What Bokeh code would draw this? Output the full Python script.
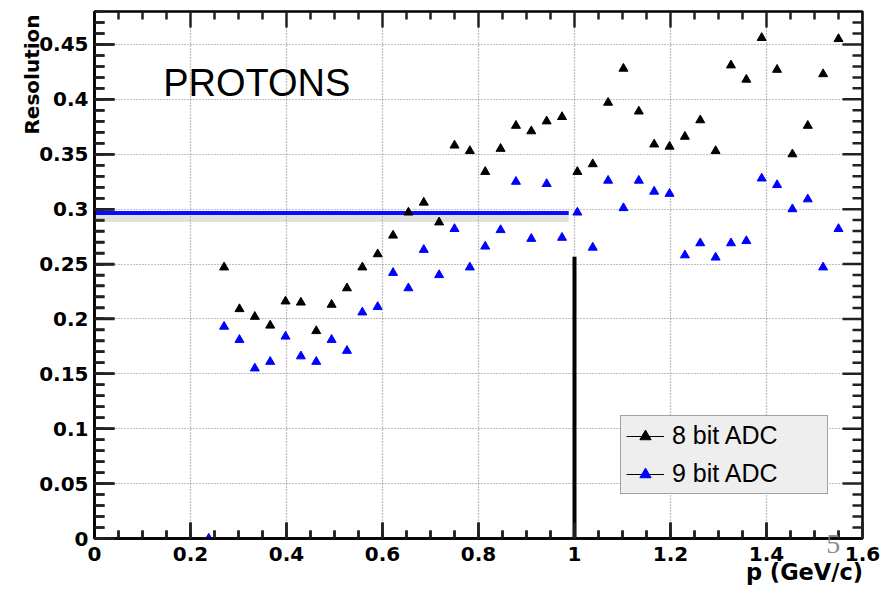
import math
import numpy as np
from bokeh.plotting import figure
from bokeh.models import (SingleIntervalTicker, FixedTicker, LinearAxis, Label, Legend,
                          LegendItem, CustomJSTickFormatter, Range1d)
from bokeh.embed import file_html
from bokeh.resources import INLINE

# ---------------- data ----------------
p_8bit = [0.270, 0.302, 0.334, 0.366, 0.398, 0.430, 0.462, 0.494, 0.526, 0.558,
          0.590, 0.622, 0.654, 0.686, 0.718, 0.750, 0.782, 0.814, 0.846, 0.878,
          0.910, 0.942, 0.974, 1.006, 1.038, 1.070, 1.102, 1.134, 1.166, 1.198,
          1.230, 1.262, 1.294, 1.326, 1.358, 1.390, 1.422, 1.454, 1.486, 1.518,
          1.550]
res_8bit = [0.247, 0.209, 0.202, 0.194, 0.216, 0.215, 0.189, 0.213, 0.228, 0.247,
            0.259, 0.276, 0.297, 0.306, 0.288, 0.358, 0.353, 0.334, 0.355, 0.376,
            0.371, 0.380, 0.384, 0.334, 0.341, 0.397, 0.428, 0.389, 0.359, 0.357,
            0.366, 0.381, 0.353, 0.431, 0.418, 0.456, 0.427, 0.350, 0.376, 0.423,
            0.455]

p_9bit = [0.238, 0.270, 0.302, 0.334, 0.366, 0.398, 0.430, 0.462, 0.494, 0.526,
          0.558, 0.590, 0.622, 0.654, 0.686, 0.718, 0.750, 0.782, 0.814, 0.846,
          0.878, 0.910, 0.942, 0.974, 1.006, 1.038, 1.070, 1.102, 1.134, 1.166,
          1.198, 1.230, 1.262, 1.294, 1.326, 1.358, 1.390, 1.422, 1.454, 1.486,
          1.518, 1.550]
res_9bit = [0.000, 0.193, 0.181, 0.155, 0.161, 0.184, 0.166, 0.161, 0.181, 0.171,
            0.206, 0.211, 0.242, 0.228, 0.263, 0.240, 0.282, 0.247, 0.266, 0.281,
            0.325, 0.273, 0.323, 0.274, 0.297, 0.265, 0.326, 0.301, 0.326, 0.316,
            0.314, 0.258, 0.269, 0.256, 0.269, 0.271, 0.328, 0.322, 0.300, 0.309,
            0.247, 0.282]

# overlay annotations drawn on the slide
target_res = 0.2965          # blue horizontal line level
target_p = [0.0, 0.988]      # its extent in p
shadow_res = 0.2915          # soft grey shadow under it
cut_p = 1.0                  # black vertical line position
cut_res = [0.0, 0.2567]      # its extent in resolution

series_names = ["8 bit ADC", "9 bit ADC"]
title_text = "PROTONS"
x_title = "p (GeV/c)"
y_title = "Resolution"
page_number = "5"

X_MAX = 1.6
Y_MAX = 0.48
X_MAJOR, X_MINOR = 0.2, 0.05
Y_MAJOR, Y_MINOR = 0.05, 0.01

# ---------------- figure ----------------
BORDER_L, BORDER_R, BORDER_T, BORDER_B = 94, 21, 11, 55
W, H = 883, 593
p = figure(width=W, height=H, output_backend="svg", toolbar_location=None,
           x_range=Range1d(0, X_MAX), y_range=Range1d(0, Y_MAX),
           min_border_left=BORDER_L, min_border_right=BORDER_R,
           min_border_top=BORDER_T, min_border_bottom=BORDER_B,
           background_fill_color="white", border_fill_color="white")
p.outline_line_color = "black"
p.outline_line_width = 2.5

xt = SingleIntervalTicker(interval=X_MAJOR, num_minor_ticks=4)
yt = SingleIntervalTicker(interval=Y_MAJOR, num_minor_ticks=5)
fmt = CustomJSTickFormatter(code="return String(Number(tick.toFixed(3)));")

tick_font = "DejaVu Sans"
TICK_W = 2.5
TICK_C = "#222222"

xa = p.xaxis[0]
xa.ticker = xt
xa.formatter = fmt
xa.major_tick_in = 16
xa.major_tick_out = 0
xa.minor_tick_in = 8
xa.minor_tick_out = 0
xa.axis_line_width = 2.5
xa.major_tick_line_width = TICK_W
xa.minor_tick_line_width = TICK_W
xa.major_tick_line_color = TICK_C
xa.minor_tick_line_color = TICK_C
xa.major_label_text_font = tick_font
xa.major_label_text_font_style = "bold"
xa.major_label_text_font_size = "20px"
xa.major_label_text_color = "black"
xa.major_label_standoff = 8

ya = p.yaxis[0]
ya.ticker = yt
ya.formatter = fmt
ya.major_tick_in = 20
ya.major_tick_out = 0
ya.minor_tick_in = 10
ya.minor_tick_out = 0
ya.axis_line_width = 2.5
ya.major_tick_line_width = TICK_W
ya.minor_tick_line_width = TICK_W
ya.major_tick_line_color = TICK_C
ya.minor_tick_line_color = TICK_C
ya.major_label_text_font = tick_font
ya.major_label_text_font_style = "bold"
ya.major_label_text_font_size = "20px"
ya.major_label_text_color = "black"
ya.major_label_standoff = 6

# axis titles as single labelled ticks of extra, line-less axes
def title_axis(pos, text, **kw):
    ax = LinearAxis(ticker=FixedTicker(ticks=[pos], minor_ticks=[]),
                    formatter=CustomJSTickFormatter(args=dict(t=text), code="return t;"),
                    axis_line_color=None, major_tick_line_color=None,
                    minor_tick_line_color=None, major_tick_in=0, major_tick_out=0,
                    minor_tick_in=0, minor_tick_out=0, **kw)
    return ax

x_title_ax = title_axis(1.4792, x_title, major_label_text_font="DejaVu Sans",
                        major_label_text_font_style="bold",
                        major_label_text_font_size="22.5px",
                        major_label_text_color="black", major_label_standoff=-5)
page_ax = title_axis(1.539, page_number + "\n\u00a0",
                     major_label_text_font="Liberation Serif",
                     major_label_text_font_style="normal",
                     major_label_text_font_size="28px",
                     major_label_text_line_height=1.02,
                     major_label_text_color="#8c8c8c", major_label_standoff=-60)
y_title_ax = title_axis(0.4226, y_title, major_label_text_font="DejaVu Sans",
                        major_label_text_font_style="bold",
                        major_label_text_font_size="20px",
                        major_label_text_color="black", major_label_standoff=-8,
                        major_label_orientation="vertical")
p.add_layout(x_title_ax, "below")
p.add_layout(page_ax, "below")
p.add_layout(y_title_ax, "left")

# grid
p.xgrid.ticker = xt
p.ygrid.ticker = yt
for g in (p.xgrid[0], p.ygrid[0]):
    g.grid_line_color = "#808080"
    g.grid_line_dash = "1 2"
    g.grid_line_width = 1.2

# ROOT-style inward ticks on all four frame edges, drawn as segments
frame_w = W - BORDER_L - BORDER_R
frame_h = H - BORDER_T - BORDER_B
px_x = X_MAX / frame_w          # data units per pixel, horizontally
px_y = Y_MAX / frame_h          # data units per pixel, vertically

x_ticks = np.round(np.arange(0.0, X_MAX + 1e-9, X_MINOR), 4)
x_is_major = np.isclose(np.mod(x_ticks + 1e-9, X_MAJOR), 0, atol=1e-6)
x_len = np.where(x_is_major, 16, 8) * px_y
y_ticks = np.round(np.arange(0.0, Y_MAX, Y_MINOR), 4)
y_is_major = np.isclose(np.mod(y_ticks + 1e-9, Y_MAJOR), 0, atol=1e-6)
y_len = np.where(y_is_major, 20, 10) * px_x

tick_kw = dict(line_color=TICK_C, line_width=TICK_W)
p.segment(x_ticks, np.zeros_like(x_ticks), x_ticks, x_len, **tick_kw)             # bottom
p.segment(x_ticks, np.full_like(x_ticks, Y_MAX), x_ticks, Y_MAX - x_len, **tick_kw)  # top
p.segment(np.zeros_like(y_ticks), y_ticks, y_len, y_ticks, **tick_kw)             # left
p.segment(np.full_like(y_ticks, X_MAX), y_ticks, X_MAX - y_len, y_ticks, **tick_kw)  # right

# overlay lines
p.line(target_p, [shadow_res, shadow_res], line_color="#bbbbbb", line_width=7,
       line_alpha=0.45)
p.line(target_p, [target_res, target_res], line_color="#0a0aff", line_width=4)
p.line([cut_p, cut_p], cut_res, line_color="black", line_width=4)

# data
s8 = p.scatter(p_8bit, res_8bit, marker="triangle", size=9, color="black")
s9 = p.scatter(p_9bit, res_9bit, marker="triangle", size=9, color="#0000ff")

l8 = p.line([float("nan")], [float("nan")], line_color="black", line_width=1)
l9 = p.line([float("nan")], [float("nan")], line_color="black", line_width=1)

legend = Legend(items=[LegendItem(label=series_names[0], renderers=[l8, s8]),
                       LegendItem(label=series_names[1], renderers=[l9, s9])],
                location=(526, 44), orientation="vertical",
                border_line_color="#555555", border_line_width=1.5,
                background_fill_color="#eeeeee", background_fill_alpha=1.0,
                label_text_font="Liberation Sans", label_text_font_size="25px",
                label_text_color="black",
                glyph_width=38, glyph_height=28, label_height=28, label_width=150,
                padding=5, spacing=9, label_standoff=8, margin=0)
p.add_layout(legend, "center")

p.add_layout(Label(x=0.143, y=0.4149, text=title_text, text_font="Liberation Sans",
                   text_font_size="38px", text_color="black",
                   text_baseline="middle", text_align="left"))

open("out.html", "w").write(file_html(p, INLINE))
